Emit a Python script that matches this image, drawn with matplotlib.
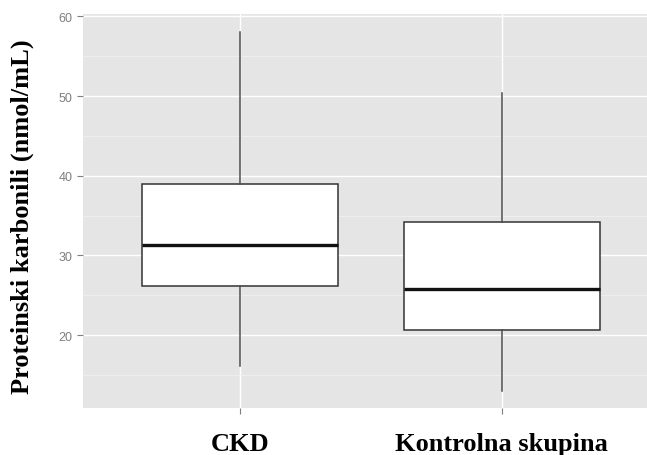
import matplotlib
matplotlib.use("Agg")
import matplotlib.pyplot as plt
from matplotlib.ticker import MultipleLocator

# Skupine in povzetki porazdelitve (min, Q1, mediana, Q3, max)
groups = ["CKD", "Kontrolna skupina"]
whisker_low = [16.1, 13.0]
q1 = [26.15, 20.65]
medians = [31.3, 25.8]
q3 = [39.0, 34.25]
whisker_high = [58.1, 50.35]

stats = []
for i, name in enumerate(groups):
    stats.append({
        "label": name,
        "whislo": whisker_low[i],
        "q1": q1[i],
        "med": medians[i],
        "q3": q3[i],
        "whishi": whisker_high[i],
        "fliers": [],
    })

fig = plt.figure(figsize=(6.47, 4.56), dpi=100)
ax = fig.add_axes([83 / 647, 47 / 456, 1 - 83 / 647, 394 / 456])
ax.set_facecolor("#E5E5E5")

ax.bxp(stats, positions=[1, 2], widths=0.75, patch_artist=True,
       showcaps=False,
       boxprops=dict(facecolor="white", edgecolor="#333333", linewidth=1.1),
       whiskerprops=dict(color="#4d4d4d", linewidth=1.1),
       medianprops=dict(color="#111111", linewidth=2.4),
       zorder=3)

# mreža v slogu ggplot2
ax.yaxis.set_major_locator(MultipleLocator(10))
ax.yaxis.set_minor_locator(MultipleLocator(5))
ax.grid(which="major", color="white", linewidth=1.0, zorder=0)
ax.grid(which="minor", axis="y", color="#F2F2F2", linewidth=0.5, zorder=0)
ax.set_axisbelow(True)

ax.set_xlim(0.4, 2.555)
ax.set_ylim(10.85, 60.3)

for s in ax.spines.values():
    s.set_visible(False)

ax.tick_params(axis="both", which="major", length=4, color="#7F7F7F",
               width=0.8, labelcolor="#7F7F7F", labelsize=9)
ax.tick_params(axis="y", which="minor", length=0)
ax.tick_params(axis="x", pad=13)
for lab in ax.get_yticklabels():
    lab.set_fontfamily("Liberation Sans")

ax.set_xticks([1, 2])
ax.set_xticklabels(groups, fontfamily="Liberation Serif", fontweight="bold",
                   fontsize=19, color="black")

fig.text(22 / 647, 1 - 217 / 456, "Proteinski karbonili (nmol/mL)",
         rotation=90, ha="center", va="center",
         fontfamily="Liberation Serif", fontweight="bold", fontsize=19)

fig.savefig("out.png", dpi=100)
